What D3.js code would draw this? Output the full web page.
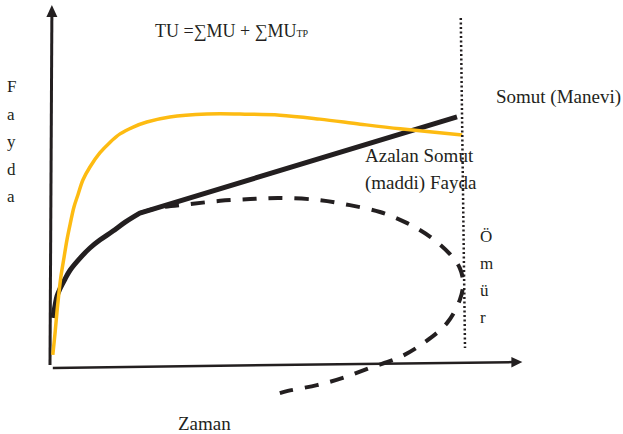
<!DOCTYPE html>
<html>
<head>
<meta charset="utf-8">
<script src="https://cdn.jsdelivr.net/npm/d3@7"></script>
<style>
  html, body { margin: 0; padding: 0; background: #ffffff; }
  svg { display: block; }
  text { font-family: "Liberation Serif", "Times New Roman", serif; fill: #231f20; }
</style>
</head>
<body>
<svg id="chart" width="623" height="434"></svg>
<script>
// ---- Data (abstract units: time 0..10, utility 0..10) ----
// Concrete (material) utility: rising curve, then linear growth (last point ends the straight part)
const concreteTime    = [0.06, 0.11, 0.15, 0.21, 0.32, 0.43, 0.64, 0.85, 1.06, 1.34, 1.60, 1.91, 8.66];
const concreteUtility = [1.31, 1.67, 1.92, 2.11, 2.39, 2.64, 2.97, 3.25, 3.47, 3.72, 3.97, 4.22, 6.89];

// Total utility (yellow)
const totalTime    = [0.06, 0.11, 0.15, 0.19, 0.23, 0.30, 0.36, 0.43, 0.51, 0.60, 0.70, 0.85, 1.06, 1.28, 1.49, 1.77, 2.06, 2.55, 3.34, 4.04, 4.89, 5.74, 6.60, 7.45, 8.77];
const totalUtility = [0.28, 0.92, 1.50, 2.00, 2.44, 3.00, 3.47, 3.92, 4.39, 4.75, 5.14, 5.50, 5.89, 6.19, 6.42, 6.61, 6.75, 6.89, 6.97, 6.97, 6.94, 6.83, 6.69, 6.56, 6.39];

// Decreasing concrete (material) utility (dashed)
const decreasingTime    = [1.91, 2.28, 2.98, 3.62, 4.26, 4.89, 5.74, 6.38, 7.02, 7.60, 8.09, 8.51, 8.72, 8.79, 8.72, 8.45, 7.98, 7.45, 6.81, 6.23, 5.68, 5.06, 4.89];
const decreasingUtility = [4.22, 4.36, 4.47, 4.56, 4.61, 4.64, 4.58, 4.44, 4.25, 3.94, 3.56, 3.08, 2.69, 2.28, 1.81, 1.17, 0.64, 0.22, -0.08, -0.36, -0.56, -0.72, -0.78];

// Lifetime boundary (dotted)
const lifeTime    = [8.74, 8.83];
const lifeUtility = [9.64, 0.47];

// Axes endpoints
const xAxisTime    = [0.06, 10.05];
const xAxisUtility = [-0.08, 0.08];
const yAxisTime    = [0.0, 0.04];
const yAxisUtility = [0.0, 10.0];

// Labels
const formulaMain = "TU =∑MU + ∑MU";
const formulaSub  = "TP";
const yLabelLetters = ["F", "a", "y", "d", "a"];
const lifeLetters   = ["Ö", "m", "ü", "r"];
const xLabel = "Zaman";
const abstractLabel = "Somut (Manevi)";
const decreasingLabel = ["Azalan Somut", "(maddi) Fayda"];

// ---- Drawing ----
const svg = d3.select("#chart");
const x = d3.scaleLinear().domain([0, 10]).range([50, 520]);
const y = d3.scaleLinear().domain([0, 10]).range([365, 5]);
const dark = "#231f20";
const yellow = "#fdbb12";

const zip = (a, b) => a.map((v, i) => [v, b[i]]);
const smooth = d3.line().x(d => x(d[0])).y(d => y(d[1])).curve(d3.curveCatmullRom.alpha(0.5));
const straight = d3.line().x(d => x(d[0])).y(d => y(d[1]));

// Texts first (dotted line passes over them)
svg.append("text").attr("x", 155).attr("y", 37).attr("font-size", 18)
  .text(formulaMain)
  .append("tspan").attr("font-size", 10).text(formulaSub);

yLabelLetters.forEach((ch, i) => {
  svg.append("text").attr("x", 7).attr("y", 92 + i * 27.5).attr("font-size", 17).text(ch);
});
lifeLetters.forEach((ch, i) => {
  svg.append("text").attr("x", 480).attr("y", 242 + i * 27).attr("font-size", 17).text(ch);
});
svg.append("text").attr("x", 178).attr("y", 430).attr("font-size", 19).text(xLabel);
svg.append("text").attr("x", 496).attr("y", 103).attr("font-size", 19).text(abstractLabel);
decreasingLabel.forEach((t, i) => {
  svg.append("text").attr("x", 365).attr("y", 162 + i * 27).attr("font-size", 19).text(t);
});

// Axes
const yPts = zip(yAxisTime, yAxisUtility);
const xPts = zip(xAxisTime, xAxisUtility);
svg.append("path").attr("d", straight([yPts[0], [yPts[1][0], yPts[1][1] - 0.25]]))
  .attr("stroke", dark).attr("stroke-width", 3).attr("fill", "none");
svg.append("path").attr("d", straight([xPts[0], [xPts[1][0] - 0.2, xPts[1][1]]]))
  .attr("stroke", dark).attr("stroke-width", 2.5).attr("fill", "none");

// Arrow heads
const yTip = [x(yPts[1][0]), y(yPts[1][1])];
svg.append("path")
  .attr("d", `M${yTip[0]},${yTip[1]} L${yTip[0] - 5.5},${yTip[1] + 12} L${yTip[0] + 5.5},${yTip[1] + 12} Z`)
  .attr("fill", dark);
const xTip = [x(xPts[1][0]), y(xPts[1][1])];
svg.append("path")
  .attr("d", `M${xTip[0]},${xTip[1]} L${xTip[0] - 11},${xTip[1] - 5} L${xTip[0] - 11},${xTip[1] + 5.5} Z`)
  .attr("fill", dark);

// Dashed decreasing utility
svg.append("path")
  .attr("d", smooth(zip(decreasingTime, decreasingUtility)))
  .attr("fill", "none").attr("stroke", dark).attr("stroke-width", 4)
  .attr("stroke-dasharray", "14,12");

// Black concrete utility: curved part then straight segment
const concretePts = zip(concreteTime, concreteUtility);
const lastPt = concretePts[concretePts.length - 1];
svg.append("path")
  .attr("d", smooth(concretePts.slice(0, -1)) + `L${x(lastPt[0])},${y(lastPt[1])}`)
  .attr("fill", "none").attr("stroke", dark).attr("stroke-width", 5)
  .attr("stroke-linejoin", "round");

// Yellow total utility
svg.append("path")
  .attr("d", smooth(zip(totalTime, totalUtility)))
  .attr("fill", "none").attr("stroke", yellow).attr("stroke-width", 3.5);

// Dotted lifetime line
svg.append("path")
  .attr("d", straight(zip(lifeTime, lifeUtility)))
  .attr("fill", "none").attr("stroke", dark).attr("stroke-width", 2.5)
  .attr("stroke-dasharray", "2,2.5");
</script>
</body>
</html>
